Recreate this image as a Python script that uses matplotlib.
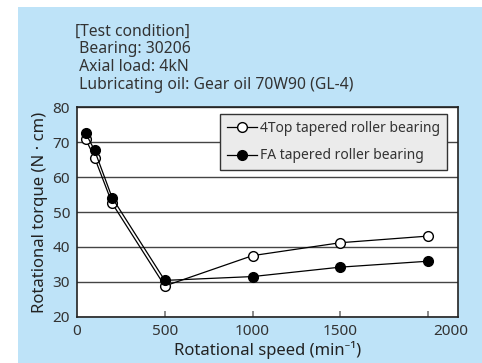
import matplotlib
matplotlib.use("Agg")
import matplotlib.pyplot as plt
from matplotlib.patches import Rectangle
from matplotlib.transforms import ScaledTranslation

# Dados
speed = [50, 100, 200, 500, 1000, 1500, 2000]
torque_4top = [70.8, 65.6, 52.5, 28.8, 37.5, 41.2, 43.1]
torque_fa = [72.5, 67.7, 54.1, 30.4, 31.5, 34.2, 35.9]
x_ticks = [0, 500, 1000, 1500, 2000]
y_ticks = [20, 30, 40, 50, 60, 70, 80]
condition_lines = ["[Test condition]",
                   " Bearing: 30206",
                   " Axial load: 4kN",
                   " Lubricating oil: Gear oil 70W90 (GL-4)"]

plt.rcParams['font.family'] = ['Noto Sans', 'DejaVu Sans']
txt = '#333333'

fig = plt.figure(figsize=(4.82, 3.63), dpi=100)
fig.patches.append(Rectangle((18 / 482, 0), 1, 1 - 7 / 363, transform=fig.transFigure,
                             facecolor='#bee3f8', edgecolor='none', zorder=-1))

for i, line in enumerate(condition_lines):
    fig.text(75 / 482, 1 - (31.5 + i * 17.7) / 363, line, fontsize=11.3, color=txt,
             va='center', ha='left')

ax = fig.add_axes([77 / 482, 1 - 316.7 / 363, 381 / 482, 209.4 / 363])
ax.set_facecolor('white')

ax.plot(speed, torque_4top, color='black', lw=0.9, marker='o', ms=7,
        mfc='white', mec='black', mew=1, label='4Top tapered roller bearing', zorder=3)
ax.plot(speed, torque_fa, color='black', lw=0.9, marker='o', ms=7,
        mfc='black', mec='black', mew=1, label='FA tapered roller bearing', zorder=4)

ax.set_xlim(0, 2170)
ax.set_ylim(20, 80)
ax.set_yticks(y_ticks)
ax.set_xticks(x_ticks)
ax.grid(axis='y', color='#444444', lw=1)
ax.set_axisbelow(True)
ax.tick_params(axis='y', length=0, pad=5, labelsize=11, labelcolor=txt)
ax.tick_params(axis='x', direction='in', length=4, width=1.2, color='#777777',
               pad=5, labelsize=11, labelcolor=txt)
ax.xaxis.get_major_ticks()[0].tick1line.set_visible(False)
# o rótulo 2000 fica deslocado para a direita no original
lbl = ax.get_xticklabels()[-1]
lbl.set_transform(lbl.get_transform() + ScaledTranslation(23 / 100, 0, fig.dpi_scale_trans))

for s in ax.spines.values():
    s.set_color('#222222')
    s.set_linewidth(1.2)

ax.set_xlabel('Rotational speed (min⁻¹)', fontsize=12, color='#222222', labelpad=2)
ax.set_ylabel('Rotational torque (N · cm)', fontsize=12, color='#222222', labelpad=3)

leg = ax.legend(loc='upper right', bbox_to_anchor=(370 / 381, (316.7 - 114) / 209.4),
                borderaxespad=0, fancybox=False, framealpha=1, facecolor='#ebebeb',
                edgecolor='#333333', fontsize=10, handlelength=2.2, handletextpad=0.2,
                borderpad=0.5, labelspacing=0.9)
leg.get_frame().set_linewidth(1)
for t in leg.get_texts():
    t.set_color(txt)

fig.savefig('out.png', dpi=100)
